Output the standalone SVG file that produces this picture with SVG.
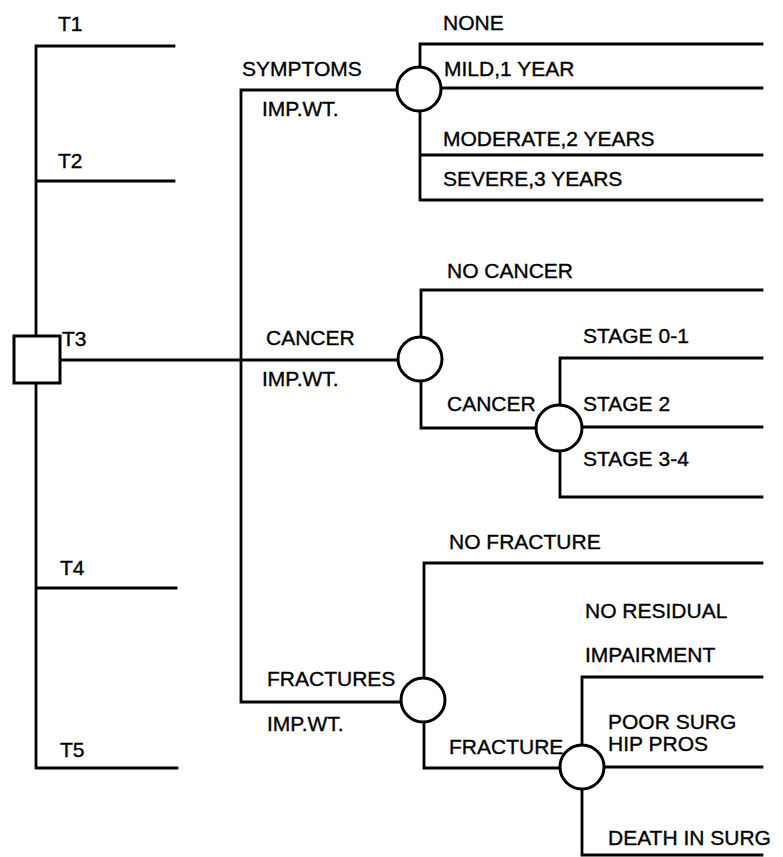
<svg xmlns="http://www.w3.org/2000/svg" width="783" height="857" viewBox="0 0 783 857">
<style>
.ln{stroke:#000;stroke-width:2.8;fill:none;stroke-linecap:square}
.nd{stroke:#000;stroke-width:3;fill:#fff}
text{font-family:"Liberation Sans",Arial,sans-serif;font-size:21px;fill:#000;stroke:#000;stroke-width:0.35}
</style>
<rect width="783" height="857" fill="#fff"/>
<g id="connectors">
  <path class="ln" d="M36,46 V768 M36,46 H174 M36,181 H174 M36,588 H176 M36,768 H177"/>
  <path class="ln" d="M60,360 H398 M241,90 V702 M241,90 H397 M241,702 H400"/>
  <path class="ln" d="M420,44 V200 M420,44 H762 M441,88 H762 M420,155 H762 M420,200 H762"/>
  <path class="ln" d="M421,290 V428 M421,290 H762 M421,428 H537 M560,358 V497 M560,358 H762 M582,427 H762 M560,497 H762"/>
  <path class="ln" d="M424,563 V768 M424,563 H762 M424,768 H560 M582,677 V855 M582,677 H762 M604,767 H762 M582,855 H762"/>
</g>
<g id="decision"><rect class="nd" x="14" y="336" width="46" height="47"/></g>
<g id="chance-symptoms"><circle class="nd" cx="419" cy="89" r="22"/></g>
<g id="chance-cancer"><circle class="nd" cx="420" cy="359" r="22"/></g>
<g id="chance-cancer-stage"><circle class="nd" cx="559" cy="428" r="23"/></g>
<g id="chance-fractures"><circle class="nd" cx="423" cy="700" r="22"/></g>
<g id="chance-fracture-outcome"><circle class="nd" cx="582" cy="767" r="22"/></g>
<g id="labels">
  <text x="58" y="31">T1</text>
  <text x="58" y="168">T2</text>
  <text x="62" y="346">T3</text>
  <text x="60" y="575">T4</text>
  <text x="60" y="757">T5</text>
  <text x="242" y="76">SYMPTOMS</text>
  <text x="262" y="116">IMP.WT.</text>
  <text x="443" y="30">NONE</text>
  <text x="444" y="76">MILD,1 YEAR</text>
  <text x="443" y="146">MODERATE,2 YEARS</text>
  <text x="443" y="186">SEVERE,3 YEARS</text>
  <text x="266" y="345">CANCER</text>
  <text x="262" y="386">IMP.WT.</text>
  <text x="447" y="278">NO CANCER</text>
  <text x="447" y="411">CANCER</text>
  <text x="583" y="343">STAGE 0-1</text>
  <text x="583" y="411">STAGE 2</text>
  <text x="583" y="466">STAGE 3-4</text>
  <text x="267" y="686">FRACTURES</text>
  <text x="267" y="731">IMP.WT.</text>
  <text x="449" y="549">NO FRACTURE</text>
  <text x="585" y="618">NO RESIDUAL</text>
  <text x="585" y="662">IMPAIRMENT</text>
  <text x="449" y="754">FRACTURE</text>
  <text x="608" y="729">POOR SURG</text>
  <text x="608" y="751">HIP PROS</text>
  <text x="608" y="845">DEATH IN SURG</text>
</g>
</svg>
